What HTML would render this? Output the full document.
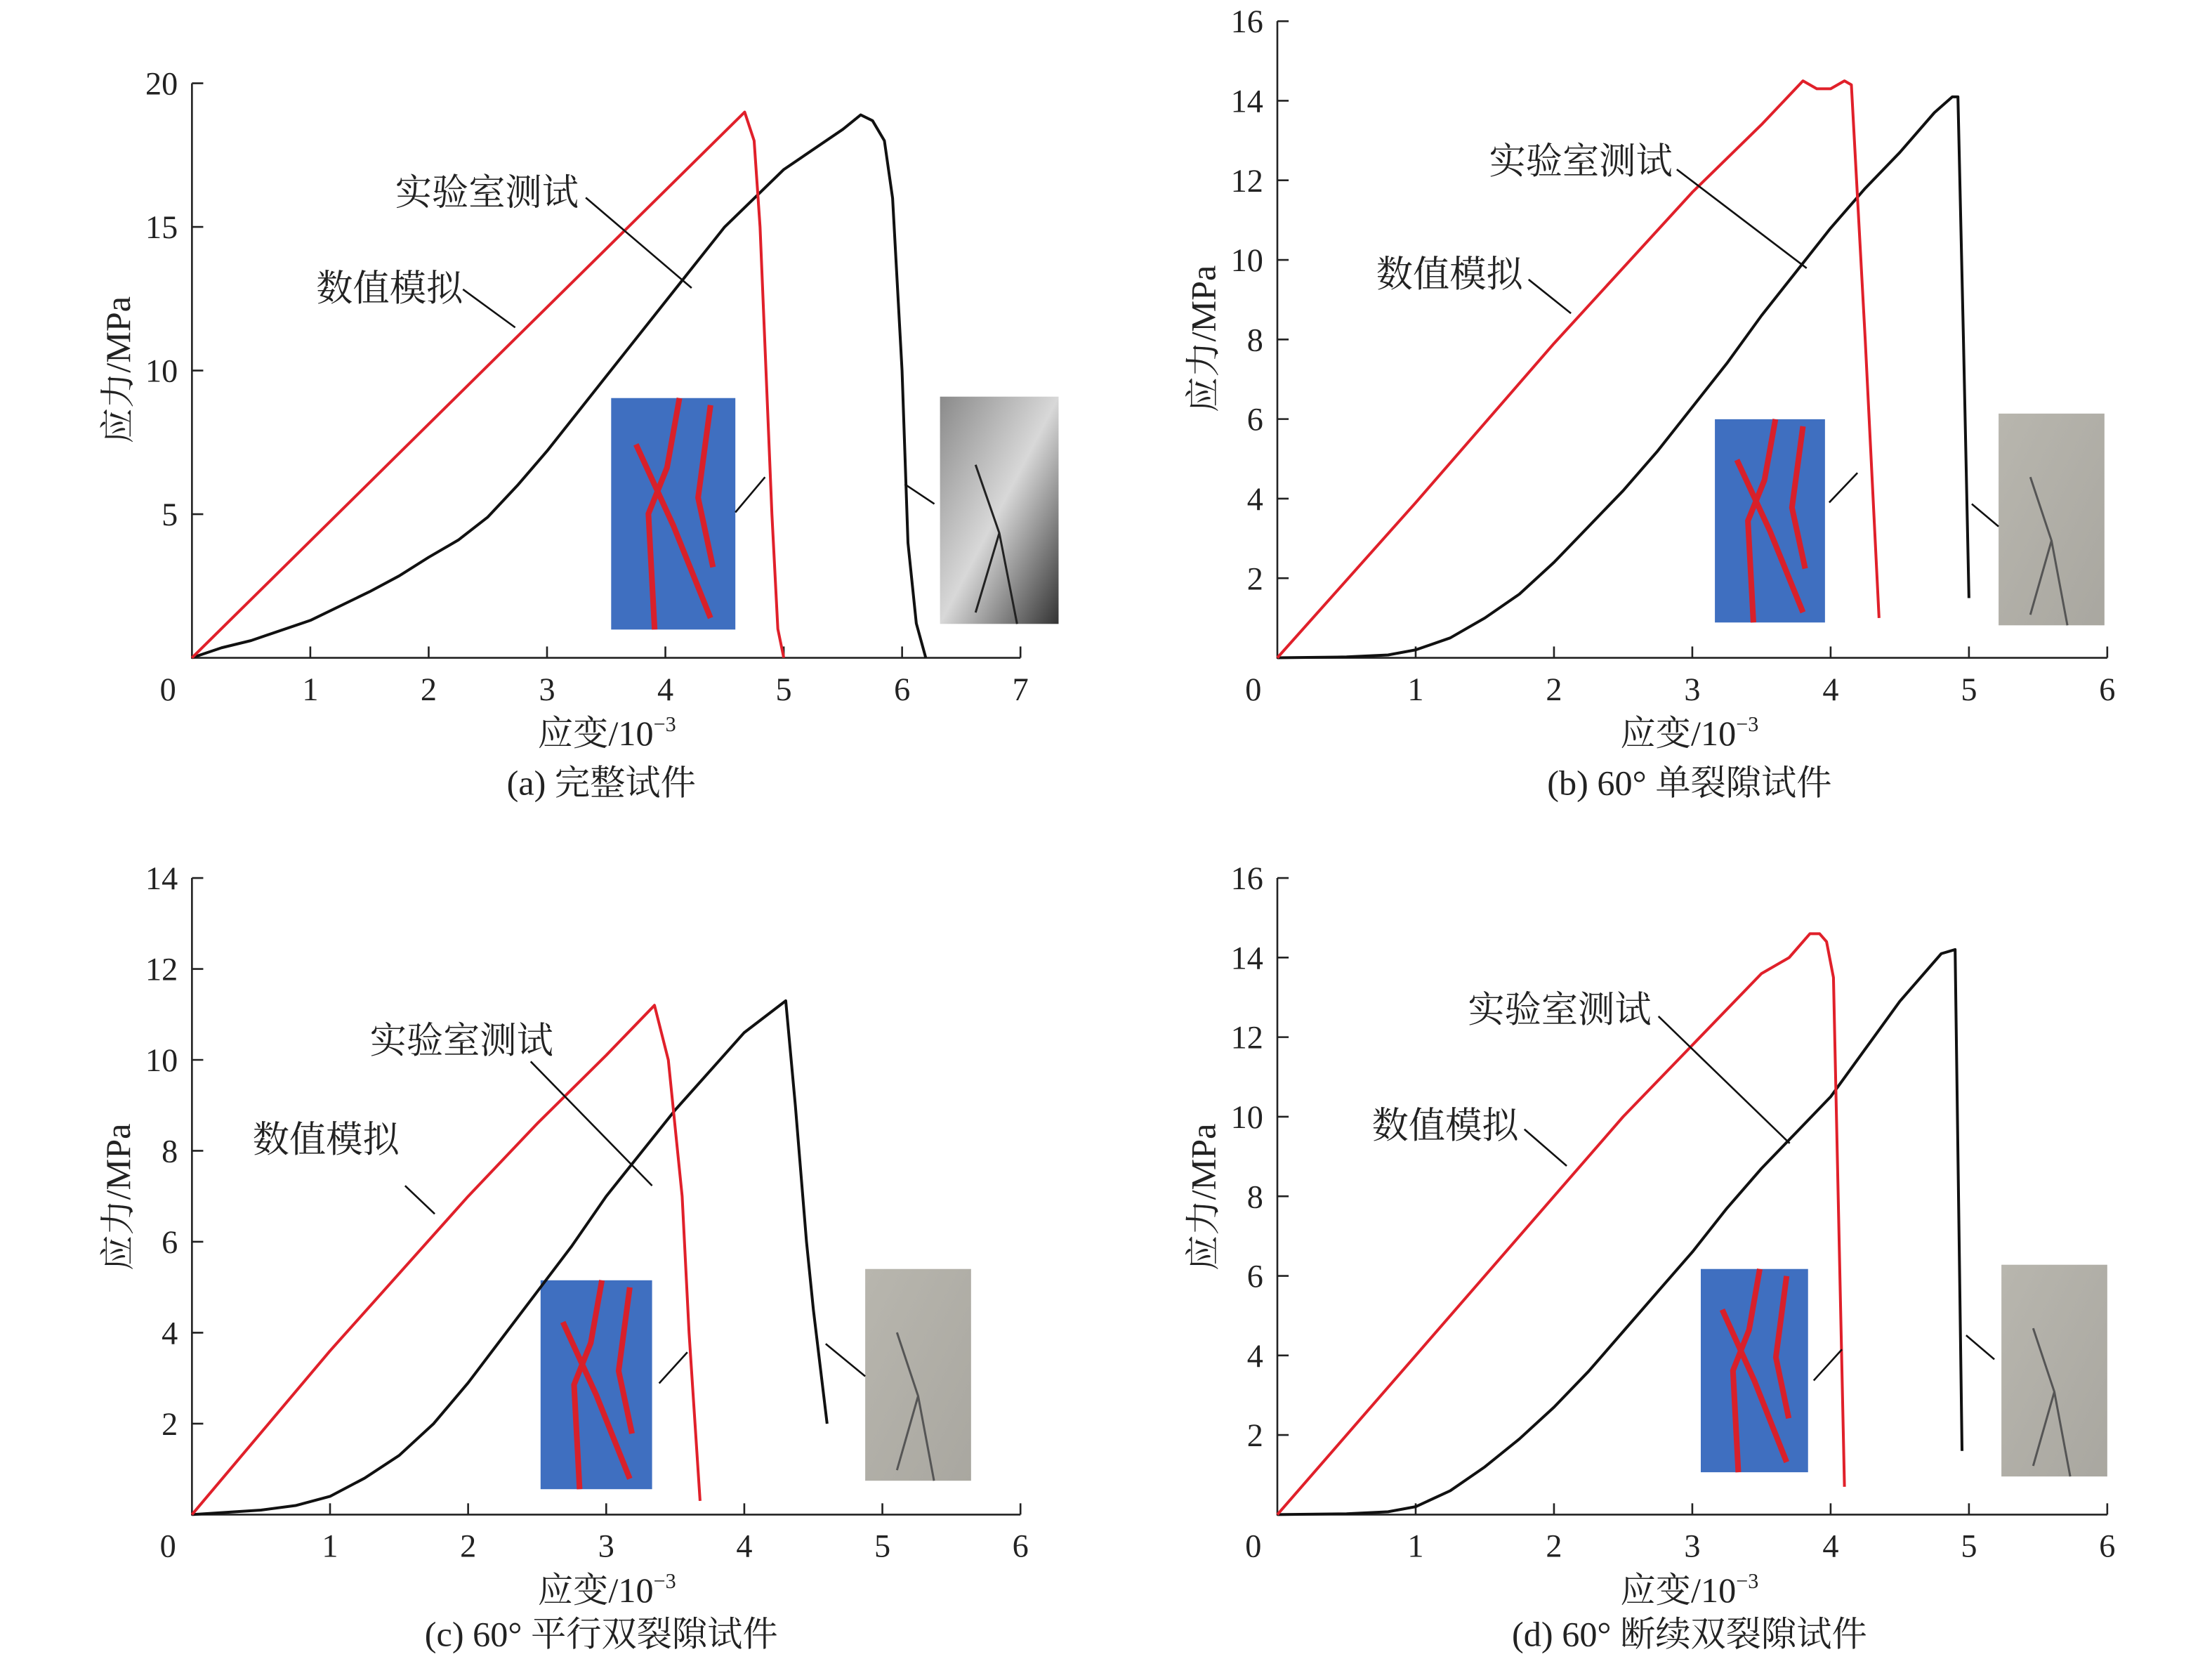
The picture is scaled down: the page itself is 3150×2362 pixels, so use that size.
<!DOCTYPE html>
<html><head><meta charset="utf-8"><style>
html,body{margin:0;padding:0;background:#fff}
svg{display:block}
text{font-family:"Liberation Serif","Noto Serif CJK SC",serif;fill:#222}
</style></head><body>
<svg id="fig" width="3150" height="2362" viewBox="0 0 1567.2 1175.3" preserveAspectRatio="none" xmlns="http://www.w3.org/2000/svg">
<defs>
<linearGradient id="gphotoA" x1="0" y1="0" x2="1" y2="1"><stop offset="0" stop-color="#8a8a8a"/><stop offset="0.5" stop-color="#d8d8d8"/><stop offset="1" stop-color="#333"/></linearGradient>
<linearGradient id="gphoto" x1="0" y1="0" x2="1" y2="1"><stop offset="0" stop-color="#b8b6ae"/><stop offset="1" stop-color="#a9a7a0"/></linearGradient>
</defs>
</svg>
<script>
// ---- data ----
const aRedX=[0,4.67,4.75,4.8,4.85,4.9,4.95,5.0];
const aRedY=[0,19,18,15,10,5,1,0];
const aBlkX=[0,0.25,0.5,1,1.5,1.75,2,2.25,2.5,2.75,3,3.5,4,4.5,5,5.5,5.65,5.75,5.85,5.92,6,6.05,6.12,6.2];
const aBlkY=[0,0.35,0.6,1.3,2.3,2.85,3.5,4.1,4.9,6,7.2,9.8,12.4,15,17,18.4,18.9,18.7,18,16,10,4,1.2,0];
const bRedX=[0,1,2,3,3.5,3.8,3.85,3.9,4.0,4.1,4.15,4.25,4.35];
const bRedY=[0,3.9,7.9,11.7,13.4,14.5,14.4,14.3,14.3,14.5,14.4,8,1];
const bBlkX=[0,0.5,0.8,1,1.25,1.5,1.75,2,2.25,2.5,2.75,3,3.25,3.5,3.75,4,4.25,4.5,4.75,4.88,4.92,4.96,5.0];
const bBlkY=[0,0.02,0.07,0.2,0.5,1,1.6,2.4,3.3,4.2,5.2,6.3,7.4,8.6,9.7,10.8,11.8,12.7,13.7,14.1,14.1,8,1.5];
const cRedX=[0,1,2,2.5,3,3.35,3.45,3.55,3.6,3.68];
const cRedY=[0,3.6,7,8.6,10.1,11.2,10,7,4,0.3];
const cBlkX=[0,0.5,0.75,1,1.25,1.5,1.75,2,2.25,2.5,2.75,3,3.5,4,4.3,4.37,4.45,4.5,4.6];
const cBlkY=[0,0.1,0.2,0.4,0.8,1.3,2,2.9,3.9,4.9,5.9,7,8.9,10.6,11.3,9,6,4.5,2];
const dRedX=[0,1,2,2.5,3,3.5,3.7,3.85,3.92,3.97,4.02,4.1];
const dRedY=[0,4,8,10,11.8,13.6,14,14.6,14.6,14.4,13.5,0.7];
const dBlkX=[0,0.5,0.8,1,1.25,1.5,1.75,2,2.25,2.5,2.75,3,3.25,3.5,3.75,4,4.25,4.5,4.8,4.9,4.95];
const dBlkY=[0,0.02,0.07,0.2,0.6,1.2,1.9,2.7,3.6,4.6,5.6,6.6,7.7,8.7,9.6,10.5,11.7,12.9,14.1,14.2,1.6];
const aXTicks=[1,2,3,4,5,6,7], aYTicks=[5,10,15,20];
const bXTicks=[1,2,3,4,5,6], bYTicks=[2,4,6,8,10,12,14,16];
const cXTicks=[1,2,3,4,5,6], cYTicks=[2,4,6,8,10,12,14];
const dXTicks=[1,2,3,4,5,6], dYTicks=[2,4,6,8,10,12,14,16];
const captions=["(a) 完整试件","(b) 60° 单裂隙试件","(c) 60° 平行双裂隙试件","(d) 60° 断续双裂隙试件"];

const NS="http://www.w3.org/2000/svg";
const svg=document.getElementById('fig');
function mk(tag,attrs,parent,txt){const e=document.createElementNS(NS,tag);for(const k in attrs)e.setAttribute(k,attrs[k]);if(txt!==undefined)e.textContent=txt;(parent||svg).appendChild(e);return e;}

const panels=[
 {id:'a',x0:136,y0:466,x1:723,xmax:7,yt:59,ymax:20,xt:aXTicks,yt2:aYTicks,red:[aRedX,aRedY],blk:[aBlkX,aBlkY],
  lab1:[280,145],lead1:[415,140,490,204],lab2:[224,213],lead2:[328,205,365,232],
  sim:[433,282,88,164],photo:[666,281,84,161],pA:true,il1:[521,363,542,338],il2:[662,357,641,343],yl:[83,262],xl:430,cap:[426,563]},
 {id:'b',x0:905,y0:466,x1:1493,xmax:6,yt:15,ymax:16,xt:bXTicks,yt2:bYTicks,red:[bRedX,bRedY],blk:[bBlkX,bBlkY],
  lab1:[1055,123],lead1:[1188,120,1280,190],lab2:[975,203],lead2:[1083,198,1113,222],
  sim:[1215,297,78,144],photo:[1416,293,75,150],il1:[1296,356,1316,335],il2:[1416,373,1397,357],yl:[852,240],xl:1197,cap:[1197,563]},
 {id:'c',x0:136,y0:1073,x1:723,xmax:6,yt:622,ymax:14,xt:cXTicks,yt2:cYTicks,red:[cRedX,cRedY],blk:[cBlkX,cBlkY],
  lab1:[262,746],lead1:[376,752,462,840],lab2:[179,816],lead2:[287,840,308,860],
  sim:[383,907,79,148],photo:[613,899,75,150],il1:[467,980,487,958],il2:[613,975,585,952],yl:[83,848],xl:430,cap:[426,1166]},
 {id:'d',x0:905,y0:1073,x1:1493,xmax:6,yt:622,ymax:16,xt:dXTicks,yt2:dYTicks,red:[dRedX,dRedY],blk:[dBlkX,dBlkY],
  lab1:[1040,724],lead1:[1175,720,1268,810],lab2:[972,806],lead2:[1080,800,1110,826],
  sim:[1205,899,76,144],photo:[1418,896,75,150],il1:[1285,978,1305,956],il2:[1413,963,1393,946],yl:[852,848],xl:1197,cap:[1197,1166]}
];

panels.forEach((p,i)=>{
 const g=mk('g',{});
 
 
 const sx=v=>p.x0+v*(p.x1-p.x0)/p.xmax;
 const sy=v=>p.y0-v*(p.y0-p.yt)/p.ymax;
 const s=p.sim;
 const sim=mk('rect',{x:s[0],y:s[1],width:s[2],height:s[3],fill:'#3f6fc0'},g);
 
 
 const cr=mk('path',{d:`M${s[0]+s[2]*0.55},${s[1]} l${-s[2]*0.1},${s[3]*0.3} l${-s[2]*0.15},${s[3]*0.2} l${s[2]*0.05},${s[3]*0.5} M${s[0]+s[2]*0.8},${s[1]+5} l${-s[2]*0.1},${s[3]*0.4} l${s[2]*0.12},${s[3]*0.3} M${s[0]+s[2]*0.2},${s[1]+s[3]*0.2} l${s[2]*0.3},${s[3]*0.35} l${s[2]*0.3},${s[3]*0.4}`,stroke:'#d8202a','stroke-width':4,fill:'none'},g);
 
 
 const ph=p.photo;
 const photo=mk('rect',{x:ph[0],y:ph[1],width:ph[2],height:ph[3],fill:p.pA?'url(#gphotoA)':'url(#gphoto)'},g);
 
 
 const pc=mk('path',{d:`M${ph[0]+ph[2]*0.3},${ph[1]+ph[3]*0.3} l${ph[2]*0.2},${ph[3]*0.3} l${ph[2]*0.15},${ph[3]*0.4} M${ph[0]+ph[2]*0.5},${ph[1]+ph[3]*0.6} l${-ph[2]*0.2},${ph[3]*0.35}`,stroke:p.pA?'#222':'#555','stroke-width':1.5,fill:'none'},g);
 
 
 const ax=mk('path',{d:`M${p.x0},${p.yt} V${p.y0} H${p.x1}`,stroke:'#222','stroke-width':1.3,fill:'none'},g);
 
 
 p.xt.forEach(t=>{
  const l=mk('line',{x1:sx(t),x2:sx(t),y1:p.y0,y2:p.y0-8,stroke:'#222','stroke-width':1.3},g);
  
  
  const tx=mk('text',{x:sx(t),y:p.y0+30,'text-anchor':'middle','font-size':23},g,String(t));
  
  
 });
 p.yt2.forEach(t=>{
  const l=mk('line',{x1:p.x0,x2:p.x0+8,y1:sy(t),y2:sy(t),stroke:'#222','stroke-width':1.3},g);
  
  
  const tx=mk('text',{x:p.x0-10,y:sy(t)+8,'text-anchor':'end','font-size':23},g,String(t));
  
  
 });
 const z=mk('text',{x:p.x0-17,y:p.y0+30,'text-anchor':'middle','font-size':23},g,'0');
 
 
 const line=(xs,ys,col,name)=>{
  const pts=xs.map((x,k)=>sx(x).toFixed(1)+','+sy(ys[k]).toFixed(1)).join(' ');
  const pl=mk('polyline',{points:pts,fill:'none',stroke:col,'stroke-width':2,'stroke-linejoin':'round'},g);
  
  
 };
 line(p.blk[0],p.blk[1],'#111','lab-test-curve-'+p.id);
 line(p.red[0],p.red[1],'#e0202a','simulation-curve-'+p.id);
 const l1=mk('text',{x:p.lab1[0],y:p.lab1[1],'font-size':26},g,'实验室测试');
 
 
 const l2=mk('text',{x:p.lab2[0],y:p.lab2[1],'font-size':26},g,'数值模拟');
 
 
 [[p.lead1,'lab-test-leader'],[p.lead2,'simulation-leader'],[p.il1,'sim-inset-leader'],[p.il2,'photo-leader']].forEach(([c,n])=>{
  const l=mk('line',{x1:c[0],y1:c[1],x2:c[2],y2:c[3],stroke:'#111','stroke-width':1.3},g);
  
  
 });
 const yl=mk('text',{x:p.yl[0],y:p.yl[1],'font-size':25,'text-anchor':'middle',transform:`rotate(-90 ${p.yl[0]} ${p.yl[1]})`,dy:9},g,'应力/MPa');
 
 
 const xl=mk('text',{x:p.xl,y:p.y0+62,'font-size':25,'text-anchor':'middle'},g);
 
 
 mk('tspan',{},xl,'应变/10');
 mk('tspan',{dy:-10,'font-size':15},xl,'−3');
 const cp=mk('text',{x:p.cap[0],y:p.cap[1],'font-size':25,'text-anchor':'middle'},g,captions[i]);
 
 
});
</script>
</body></html>
